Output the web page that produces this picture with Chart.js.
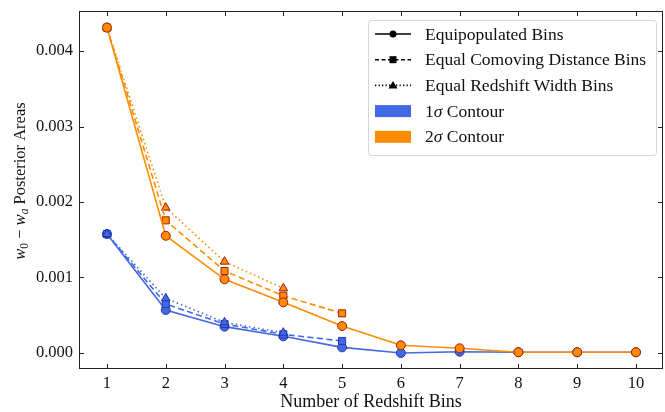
<!DOCTYPE html>
<html>
<head>
<meta charset="utf-8">
<script src="https://cdn.jsdelivr.net/npm/chart.js@4"></script>
<style>
  html, body { margin: 0; padding: 0; background: #fff; }
  #wrap { width: 665px; height: 412px; }
</style>
</head>
<body>
<div id="wrap"><canvas id="chart" width="665" height="412"></canvas></div>
<script>
// number of redshift bins
var bins = [1, 2, 3, 4, 5, 6, 7, 8, 9, 10];

// 1 sigma contour areas
var equipop1 = [0.001576, 0.000570, 0.000349, 0.000221, 0.000075, 0.000000, 0.000017, 0.000010, 0.000010, 0.000010];
var comoving1 = [0.001576, 0.000649, 0.000384, 0.000247, 0.000159];
var redshift1 = [0.001576, 0.000724, 0.000406, 0.000269];

// 2 sigma contour areas
var equipop2 = [0.004310, 0.001553, 0.000976, 0.000671, 0.000357, 0.000102, 0.000062, 0.000010, 0.000010, 0.000010];
var comoving2 = [0.004310, 0.001757, 0.001086, 0.000759, 0.000525];
var redshift2 = [0.004310, 0.001925, 0.001210, 0.000857];

var xTicks = [1, 2, 3, 4, 5, 6, 7, 8, 9, 10];
var yTicks = [0, 0.001, 0.002, 0.003, 0.004];

var blue = '#4169e1', blueEdge = '#2438b0';
var orange = '#ff8c00', orangeEdge = '#9c1c10';
var serif = '"Liberation Serif", "Times New Roman", serif';

Chart.defaults.font.family = serif;
Chart.defaults.color = '#111';

function pts(vals) {
    return vals.map(function (v, i) { return { x: bins[i], y: v }; });
}

function series(label, vals, color, edge, style, dash, rad, order) {
    return {
        label: label,
        data: pts(vals),
        borderColor: color,
        backgroundColor: color,
        borderWidth: 1.6,
        borderDash: dash,
        pointStyle: style,
        pointRadius: rad,
        pointBorderColor: edge,
        pointBackgroundColor: color,
        pointBorderWidth: 1,
        tension: 0,
        fill: false,
        order: order
    };
}

// inward ticks on all four sides, frame, titles and legend
var frame = {
    id: 'frame',
    afterDraw: function (chart) {
        var ctx = chart.ctx, a = chart.chartArea;
        var xs = chart.scales.x, ys = chart.scales.y;
        ctx.save();
        ctx.strokeStyle = '#222';
        ctx.lineWidth = 1;
        ctx.strokeRect(a.left + 0.5, a.top + 0.5, a.right - a.left - 1, a.bottom - a.top - 1);
        ctx.beginPath();
        xTicks.forEach(function (t) {
            var px = Math.round(xs.getPixelForValue(t)) + 0.5;
            ctx.moveTo(px, a.bottom); ctx.lineTo(px, a.bottom - 5);
            ctx.moveTo(px, a.top); ctx.lineTo(px, a.top + 5);
        });
        yTicks.forEach(function (t) {
            var py = Math.round(ys.getPixelForValue(t)) + 0.5;
            ctx.moveTo(a.left, py); ctx.lineTo(a.left + 5, py);
            ctx.moveTo(a.right, py); ctx.lineTo(a.right - 5, py);
        });
        ctx.stroke();

        // axis titles
        ctx.fillStyle = '#111';
        ctx.textBaseline = 'alphabetic';
        ctx.font = '18px ' + serif;
        ctx.textAlign = 'center';
        ctx.fillText('Number of Redshift Bins', (a.left + a.right) / 2, 407);

        // y title: w0 - wa Posterior Areas (rotated)
        ctx.translate(25, 181);
        ctx.rotate(-Math.PI / 2);
        var parts = [
            ['w', 'italic 16.5px ' + serif, 0],
            ['0', '11.5px ' + serif, 3],
            [' \u2212 ', '16.5px ' + serif, 0],
            ['w', 'italic 16.5px ' + serif, 0],
            ['a', 'italic 11.5px ' + serif, 3],
            [' Posterior Areas', '16.5px ' + serif, 0]
        ];
        var total = 0;
        parts.forEach(function (p) { ctx.font = p[1]; total += ctx.measureText(p[0]).width; });
        var cx = -total / 2;
        ctx.textAlign = 'left';
        parts.forEach(function (p) {
            ctx.font = p[1];
            ctx.fillText(p[0], cx, p[2]);
            cx += ctx.measureText(p[0]).width;
        });
        ctx.restore();

        // legend
        ctx.save();
        var lx = 368, ly = 20, lw = 288, lh = 135;
        ctx.fillStyle = 'rgba(255,255,255,0.85)';
        ctx.strokeStyle = '#d6d6d6';
        ctx.lineWidth = 1;
        ctx.beginPath();
        ctx.roundRect(lx + 0.5, ly + 0.5, lw, lh, 3);
        ctx.fill();
        ctx.stroke();
        var rows = [
            { text: 'Equipopulated Bins', dash: [], mark: 'circle' },
            { text: 'Equal Comoving Distance Bins', dash: [4, 2.5], mark: 'rect' },
            { text: 'Equal Redshift Width Bins', dash: [1.3, 2.2], mark: 'triangle' },
            { patch: blue, pre: '1', text: ' Contour' },
            { patch: orange, pre: '2', text: ' Contour' }
        ];
        rows.forEach(function (r, i) {
            var y = 34 + i * 25.7;
            if (r.patch) {
                ctx.fillStyle = r.patch;
                ctx.fillRect(375, y - 6, 36, 12);
            } else {
                ctx.strokeStyle = '#000';
                ctx.lineWidth = 1.6;
                ctx.setLineDash(r.dash);
                ctx.beginPath();
                ctx.moveTo(375, y); ctx.lineTo(411, y);
                ctx.stroke();
                ctx.setLineDash([]);
                ctx.fillStyle = '#000';
                ctx.beginPath();
                if (r.mark === 'circle') ctx.arc(393, y, 3.5, 0, Math.PI * 2);
                else if (r.mark === 'rect') ctx.rect(389.5, y - 3.5, 7, 7);
                else { ctx.moveTo(393, y - 4.5); ctx.lineTo(397.5, y + 3); ctx.lineTo(388.5, y + 3); ctx.closePath(); }
                ctx.fill();
            }
            ctx.fillStyle = '#111';
            ctx.textAlign = 'left';
            ctx.textBaseline = 'middle';
            var tx = 425;
            if (r.pre) {
                ctx.font = '17.5px ' + serif;
                ctx.fillText(r.pre, tx, y + 1);
                tx += ctx.measureText(r.pre).width;
                ctx.font = 'italic 17.5px ' + serif;
                ctx.fillText('\u03c3', tx, y + 1);
                tx += ctx.measureText('\u03c3').width;
            }
            ctx.font = '17.5px ' + serif;
            ctx.fillText(r.text, tx, y + 1);
        });
        ctx.restore();
    }
};

new Chart(document.getElementById('chart').getContext('2d'), {
    type: 'line',
    data: {
        datasets: [
            series('1s equipop', equipop1, blue, blueEdge, 'circle', [], 4.5, 6),
            series('1s comoving', comoving1, blue, blueEdge, 'rect', [6, 3.5], 5, 5),
            series('1s redshift', redshift1, blue, blueEdge, 'triangle', [1.5, 3], 5, 4),
            series('2s equipop', equipop2, orange, orangeEdge, 'circle', [], 4.5, 1),
            series('2s comoving', comoving2, orange, orangeEdge, 'rect', [6, 3.5], 5, 2),
            series('2s redshift', redshift2, orange, orangeEdge, 'triangle', [1.5, 3], 5, 3)
        ]
    },
    options: {
        responsive: false,
        animation: false,
        layout: { autoPadding: false, padding: { left: 0, right: 2, top: 11, bottom: 0 } },
        plugins: { legend: { display: false }, tooltip: { enabled: false } },
        scales: {
            x: {
                type: 'linear',
                min: 0.524,
                max: 10.46,
                grid: { display: false, drawTicks: false },
                border: { display: false },
                afterBuildTicks: function (s) { s.ticks = xTicks.map(function (v) { return { value: v }; }); },
                afterFit: function (s) { s.height = 43; s.paddingLeft = 0; s.paddingRight = 0; },
                ticks: {
                    padding: 5,
                    color: '#111',
                    font: { family: serif, size: 16.5 },
                    maxRotation: 0,
                    callback: function (v) { return String(v); }
                }
            },
            y: {
                min: -0.000212,
                max: 0.00453,
                grid: { display: false, drawTicks: false },
                border: { display: false },
                afterBuildTicks: function (s) { s.ticks = yTicks.map(function (v) { return { value: v }; }); },
                afterFit: function (s) { s.width = 79; s.paddingTop = 0; s.paddingBottom = 0; },
                ticks: {
                    padding: 6,
                    color: '#111',
                    font: { family: serif, size: 16.5 },
                    callback: function (v) { return v.toFixed(3); }
                }
            }
        }
    },
    plugins: [frame]
});
</script>
</body>
</html>
